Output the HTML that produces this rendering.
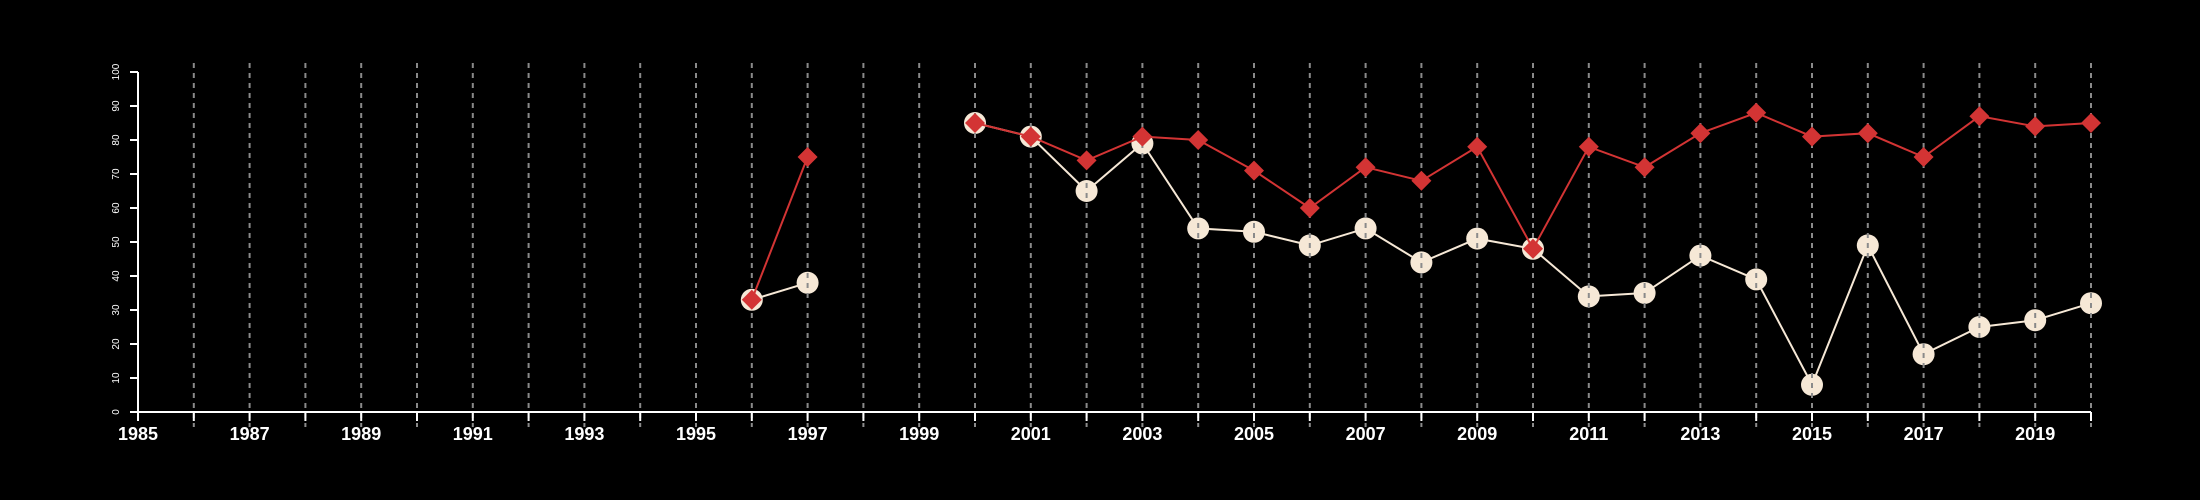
<!DOCTYPE html>
<html><head><meta charset="utf-8"><style>
html,body{margin:0;padding:0;background:#000;}
svg{display:block;}
text{font-family:"Liberation Sans",Arial,sans-serif;fill:#fff;}
</style></head><body>
<svg id="chart" width="2200" height="500" viewBox="0 0 2200 500" xmlns="http://www.w3.org/2000/svg">
<rect width="2200" height="500" fill="#000"/>
<g id="lines"></g><g id="white"></g><g id="grid"></g><g id="red"></g><g id="axes"></g>
</svg>
<script>
const years = [1996,1997,1998,1999,2000,2001,2002,2003,2004,2005,2006,2007,2008,2009,2010,2011,2012,2013,2014,2015,2016,2017,2018,2019,2020];
const seriesWhite = [33,38,null,null,85,81,65,79,54,53,49,54,44,51,48,34,35,46,39,8,49,17,25,27,32];
const seriesRed = [33,75,null,null,85,81,74,81,80,71,60,72,68,78,48,78,72,82,88,81,82,75,87,84,85];
const yTicks = [0,10,20,30,40,50,60,70,80,90,100];
const xTickLabels = [1985,1987,1989,1991,1993,1995,1997,1999,2001,2003,2005,2007,2009,2011,2013,2015,2017,2019];

const NS='http://www.w3.org/2000/svg';
const x0=138, x1=2091, yr0=1985, yr1=2020, yb=412, yt=72;
const xs = y => x0 + (y-yr0)*(x1-x0)/(yr1-yr0);
const ys = v => yb - v*(yb-yt)/100;
function mk(tag, attrs, parent){const e=document.createElementNS(NS,tag);for(const k in attrs)e.setAttribute(k,attrs[k]);parent.appendChild(e);return e;}
const gLines=document.getElementById('lines'), gWhite=document.getElementById('white'), gGrid=document.getElementById('grid'), gRed=document.getElementById('red'), gAx=document.getElementById('axes');

function segs(vals){const out=[];let cur=[];vals.forEach((v,i)=>{if(v==null){if(cur.length)out.push(cur);cur=[];}else cur.push(xs(years[i])+','+ys(v));});if(cur.length)out.push(cur);return out;}
segs(seriesWhite).forEach(s=>{
  const p=mk('polyline',{points:s.join(' '),fill:'none',stroke:'#f6e8d6','stroke-width':2},gLines);
  
  
});
seriesWhite.forEach((v,i)=>{ if(v==null)return;
  const c=mk('circle',{cx:xs(years[i]),cy:ys(v),r:11,fill:'#f6e8d6'},gWhite);
  
  
});
for(let y=1986;y<=2020;y++){
  const l=mk('line',{x1:xs(y),x2:xs(y),y1:63,y2:427,stroke:'#8a8a8a','stroke-width':2,'stroke-dasharray':'5,5'},gGrid);
  
  
}
segs(seriesRed).forEach(s=>{
  const p=mk('polyline',{points:s.join(' '),fill:'none',stroke:'#d33434','stroke-width':2},gRed);
  
  
});
seriesRed.forEach((v,i)=>{ if(v==null)return;
  const cx=xs(years[i]), cy=ys(v), d=10;
  const p=mk('polygon',{points:`${cx},${cy-d} ${cx+d},${cy} ${cx},${cy+d} ${cx-d},${cy}`,fill:'#d33434'},gRed);
  
  
});
// axes
let a=mk('line',{x1:x0,x2:x0,y1:yt,y2:yb,stroke:'#fff','stroke-width':2},gAx);


a=mk('line',{x1:x0,x2:x1,y1:yb,y2:yb,stroke:'#fff','stroke-width':2},gAx);


yTicks.forEach(v=>{
  const t=mk('line',{x1:x0-8,x2:x0,y1:ys(v),y2:ys(v),stroke:'#fff','stroke-width':2},gAx);
  
  
  const tx=mk('text',{x:0,y:0,'font-size':10,'text-anchor':'middle',transform:`translate(119,${ys(v)}) rotate(-90)`},gAx);
  tx.textContent=v;
  
  
});
for(let y=1985;y<=2020;y++){
  const t=mk('line',{x1:xs(y),x2:xs(y),y1:yb,y2:yb+9,stroke:'#fff','stroke-width':2},gAx);
  
  
}
xTickLabels.forEach(y=>{
  const tx=mk('text',{x:xs(y),y:440,'font-size':18,'font-weight':'bold','text-anchor':'middle'},gAx);
  tx.textContent=y;
  
  
});
</script>
</body></html>
